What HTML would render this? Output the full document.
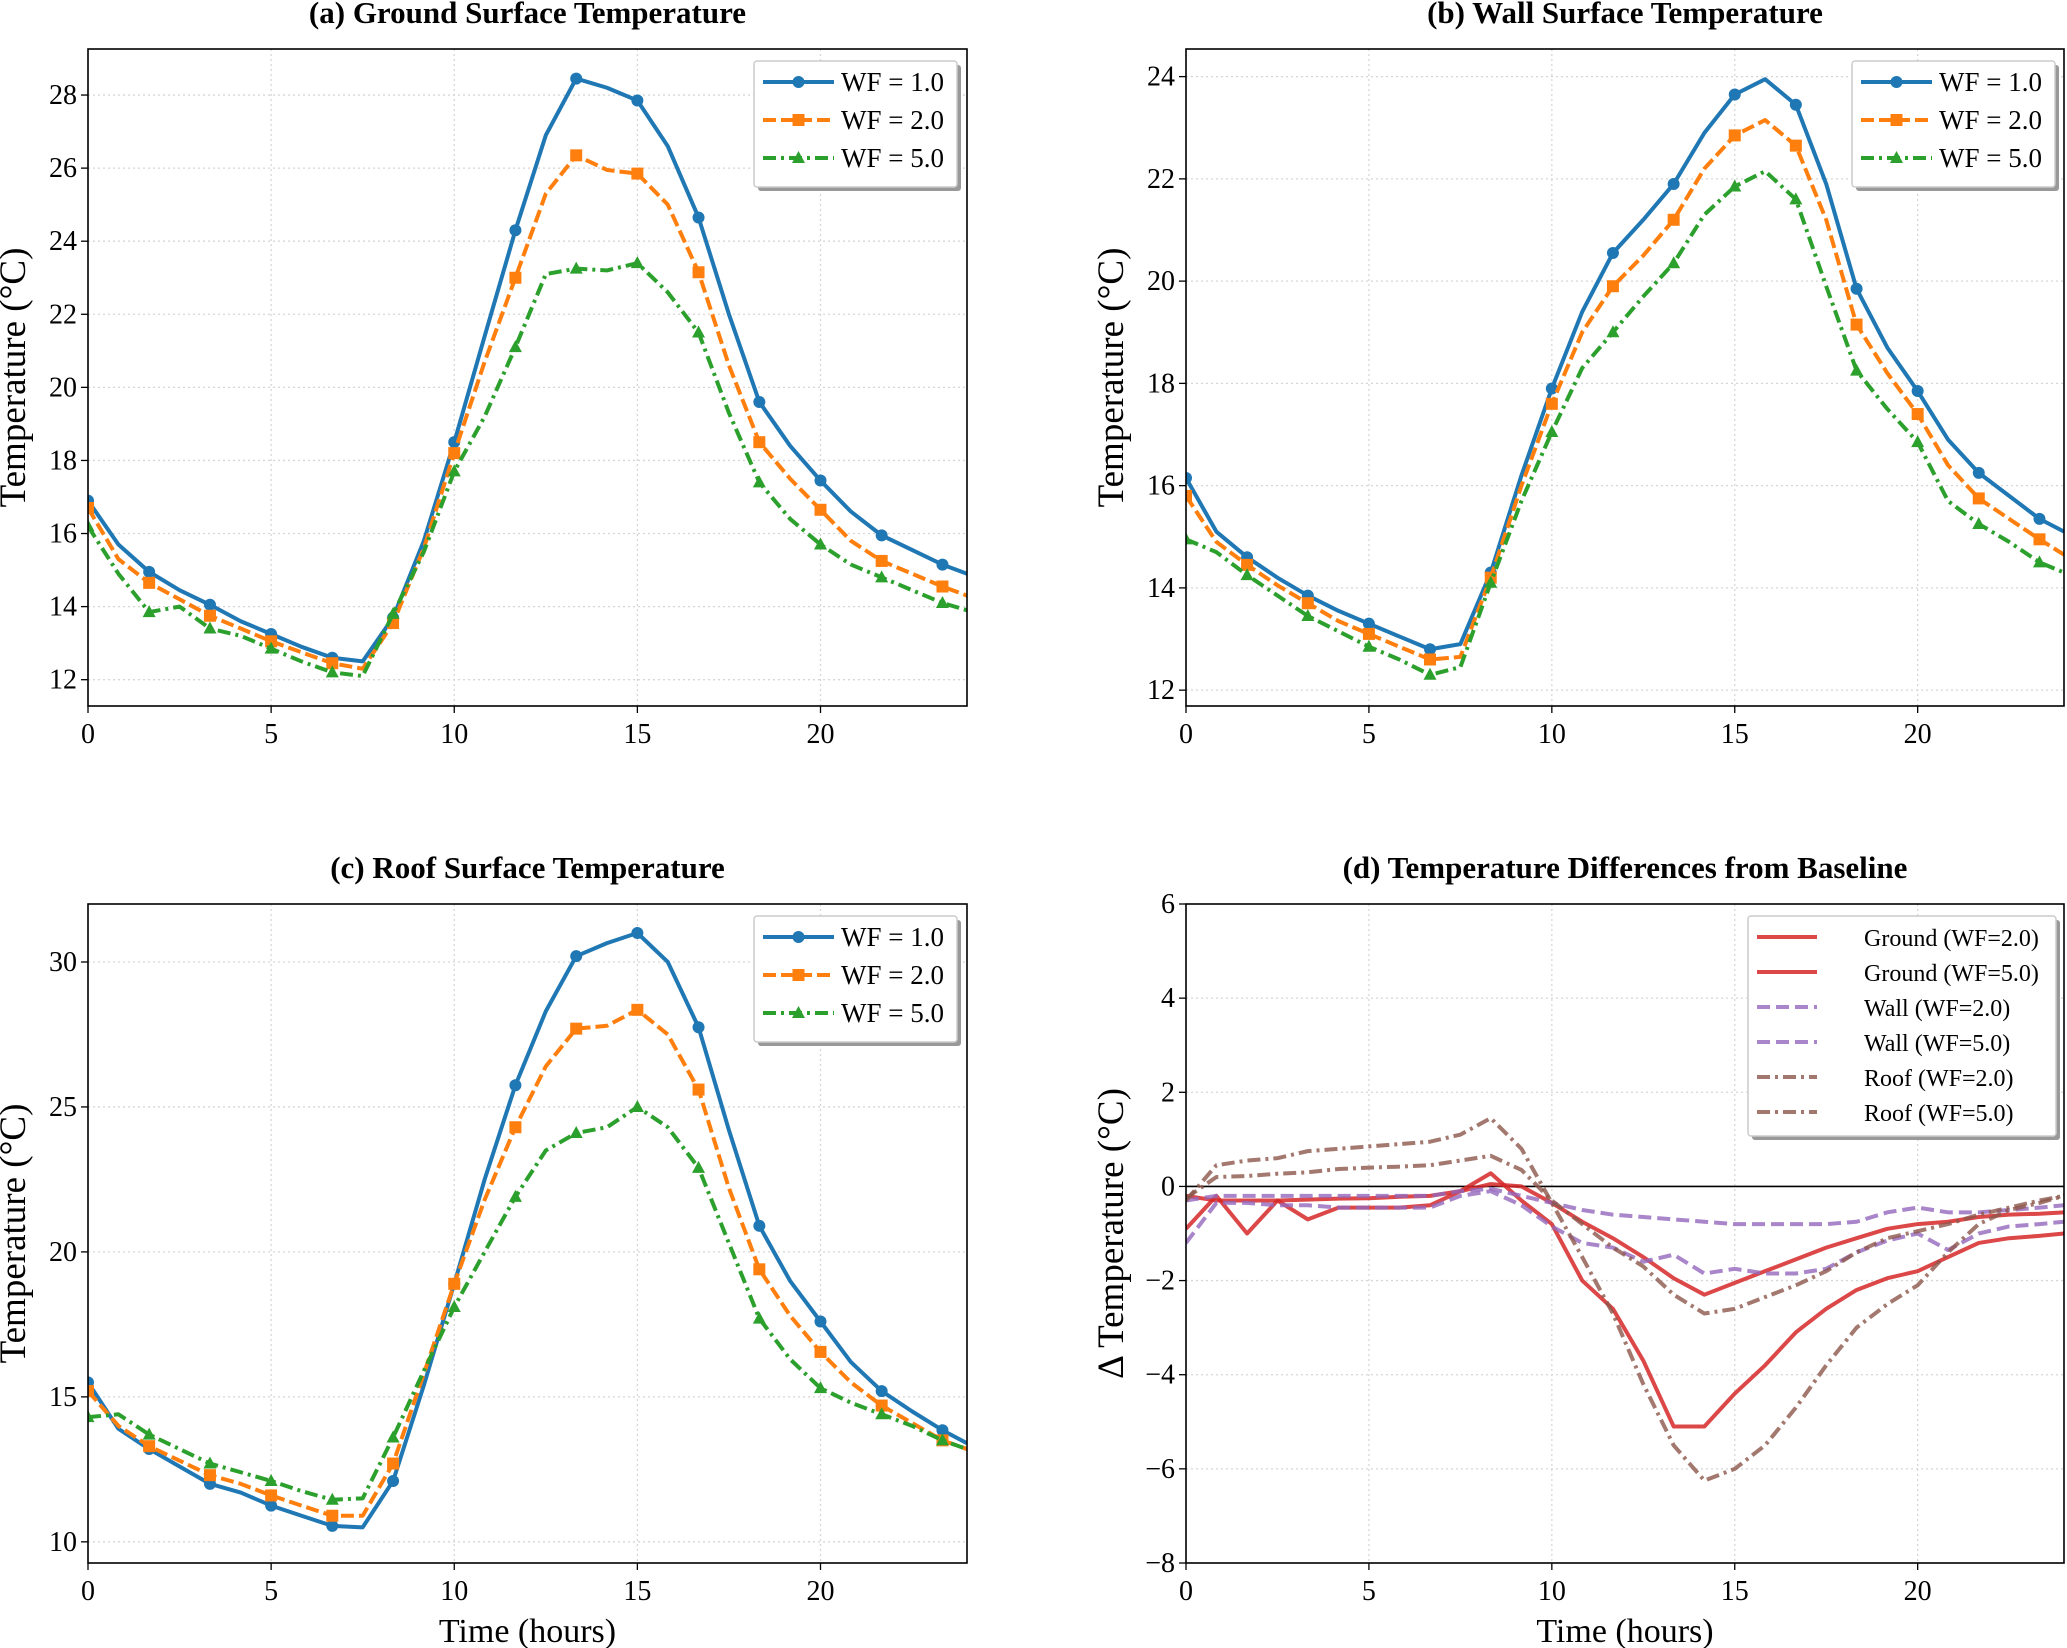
<!DOCTYPE html>
<html><head><meta charset="utf-8"><style>
html,body{margin:0;padding:0;background:#fff}
svg{display:block;font-family:"Liberation Serif",serif}
</style></head><body>
<svg id="fig" width="2067" height="1648" viewBox="0 0 2067 1648" xmlns="http://www.w3.org/2000/svg"></svg>
<script>
const times=[0,0.83,1.67,2.5,3.33,4.17,5,5.83,6.67,7.5,8.33,9.17,10,10.83,11.67,12.5,13.33,14.17,15,15.83,16.67,17.5,18.33,19.17,20,20.83,21.67,22.5,23.33,24];
const xTicks=[0,5,10,15,20];
const gWF1=[16.9,15.7,14.95,14.45,14.05,13.6,13.25,12.9,12.6,12.5,13.7,15.8,18.5,21.4,24.3,26.9,28.45,28.2,27.85,26.6,24.65,22,19.6,18.4,17.45,16.6,15.95,15.55,15.15,14.9];
const gWF2=[16.7,15.3,14.65,14.2,13.75,13.4,13.05,12.75,12.45,12.3,13.55,15.6,18.2,20.7,23.0,25.3,26.35,25.95,25.85,25.0,23.15,20.6,18.5,17.5,16.65,15.8,15.25,14.9,14.55,14.3];
const gWF5=[16.2,14.9,13.85,14.0,13.4,13.2,12.85,12.5,12.2,12.1,13.8,15.5,17.7,19.2,21.1,23.1,23.25,23.2,23.4,22.6,21.5,19.3,17.4,16.4,15.7,15.15,14.8,14.45,14.1,13.9];
const wWF1=[16.15,15.1,14.6,14.2,13.85,13.55,13.3,13.05,12.8,12.9,14.3,16.2,17.9,19.4,20.55,21.2,21.9,22.9,23.65,23.95,23.45,21.9,19.85,18.7,17.85,16.9,16.25,15.8,15.35,15.1];
const wWF2=[15.8,14.9,14.45,14.05,13.7,13.35,13.1,12.85,12.6,12.65,14.2,16.0,17.6,19.0,19.9,20.5,21.2,22.2,22.85,23.15,22.65,21.2,19.15,18.2,17.4,16.4,15.75,15.35,14.95,14.65];
const wWF5=[14.95,14.7,14.25,13.85,13.45,13.15,12.85,12.6,12.3,12.45,14.1,15.7,17.05,18.3,19.0,19.7,20.35,21.3,21.85,22.15,21.6,19.9,18.25,17.5,16.85,15.7,15.25,14.9,14.5,14.3];
const rWF1=[15.5,13.9,13.2,12.6,12.0,11.7,11.25,10.9,10.55,10.5,12.1,15.4,18.9,22.5,25.75,28.3,30.2,30.65,31.0,30.0,27.75,24.2,20.9,19.0,17.6,16.2,15.2,14.5,13.85,13.4];
const rWF2=[15.2,14.0,13.3,12.8,12.3,12.0,11.6,11.25,10.9,10.9,12.7,15.8,18.9,21.8,24.3,26.4,27.7,27.8,28.35,27.5,25.6,22.2,19.4,17.8,16.55,15.5,14.7,14.1,13.5,13.2];
const rWF5=[14.3,14.4,13.7,13.2,12.7,12.4,12.1,11.75,11.45,11.5,13.6,15.9,18.1,20.0,21.9,23.5,24.1,24.3,25.0,24.3,22.9,20.3,17.7,16.3,15.3,14.8,14.4,14.0,13.5,13.2];
const dG2=[-0.2,-0.3,-0.3,-0.3,-0.28,-0.26,-0.25,-0.22,-0.2,-0.1,0.05,0.0,-0.35,-0.75,-1.1,-1.5,-1.95,-2.3,-2.05,-1.8,-1.55,-1.3,-1.1,-0.9,-0.8,-0.75,-0.65,-0.6,-0.58,-0.55];
const dG5=[-0.9,-0.2,-1.0,-0.3,-0.7,-0.45,-0.45,-0.45,-0.4,-0.1,0.28,-0.3,-0.8,-2.0,-2.6,-3.7,-5.1,-5.1,-4.4,-3.8,-3.1,-2.6,-2.2,-1.95,-1.8,-1.5,-1.2,-1.1,-1.05,-1.0];
const dW2=[-0.3,-0.2,-0.2,-0.2,-0.2,-0.2,-0.2,-0.2,-0.2,-0.1,-0.05,-0.2,-0.35,-0.5,-0.6,-0.65,-0.7,-0.75,-0.8,-0.8,-0.8,-0.8,-0.75,-0.55,-0.45,-0.55,-0.55,-0.5,-0.45,-0.4];
const dW5=[-1.2,-0.35,-0.35,-0.4,-0.4,-0.45,-0.45,-0.45,-0.45,-0.2,-0.1,-0.4,-0.85,-1.2,-1.3,-1.6,-1.45,-1.85,-1.75,-1.85,-1.85,-1.75,-1.4,-1.15,-1.0,-1.35,-1.0,-0.85,-0.8,-0.75];
const dR2=[-0.25,0.2,0.22,0.27,0.3,0.37,0.4,0.42,0.45,0.55,0.65,0.35,-0.3,-0.8,-1.3,-1.7,-2.3,-2.7,-2.6,-2.35,-2.1,-1.8,-1.4,-1.1,-0.95,-0.8,-0.6,-0.45,-0.3,-0.2];
const dR5=[-0.3,0.45,0.55,0.6,0.75,0.8,0.85,0.9,0.95,1.1,1.45,0.8,-0.35,-1.5,-2.7,-4.2,-5.5,-6.25,-6.0,-5.5,-4.7,-3.8,-3.0,-2.5,-2.1,-1.4,-0.8,-0.5,-0.35,-0.2];
const yTicksA=[12,14,16,18,20,22,24,26,28];
const yTicksB=[12,14,16,18,20,22,24];
const yTicksC=[10,15,20,25,30];
const yTicksD=[-8,-6,-4,-2,0,2,4,6];

const NS="http://www.w3.org/2000/svg";
const svg=document.getElementById('fig');
function mk(tag,attrs,parent){const e=document.createElementNS(NS,tag);for(const k in attrs)e.setAttribute(k,attrs[k]);(parent||svg).appendChild(e);return e;}
function txt(s,attrs,parent){const e=mk('text',attrs,parent);e.textContent=s;return e;}
function minus(v){return v<0?'\u2212'+Math.abs(v):String(v);}

function panel(id,L,R,T,B,ymin,ymax,yt,title,ylabel,xlabel){
  const g=mk('g',{});
  
  
  const sx=v=>L+(v-0)/(24-0)*(R-L);
  const sy=v=>B-(v-ymin)/(ymax-ymin)*(B-T);
  const cid='clip-'+id;
  const cp=mk('clipPath',{id:cid},g);mk('rect',{x:L,y:T,width:R-L,height:B-T},cp);
  xTicks.forEach(v=>{const l=mk('line',{x1:sx(v),x2:sx(v),y1:T,y2:B,stroke:'#d6d6d6','stroke-width':1.3,'stroke-dasharray':'2,3'},g);
    
    mk('line',{x1:sx(v),x2:sx(v),y1:B,y2:B+7,stroke:'#000','stroke-width':1.3},g);
    const t=txt(String(v),{x:sx(v),y:B+37,'font-size':28,'text-anchor':'middle'},g);
    });
  yt.forEach(v=>{const l=mk('line',{x1:L,x2:R,y1:sy(v),y2:sy(v),stroke:'#d6d6d6','stroke-width':1.3,'stroke-dasharray':'2,3'},g);
    
    mk('line',{x1:L-7,x2:L,y1:sy(v),y2:sy(v),stroke:'#000','stroke-width':1.3},g);
    const t=txt(minus(v),{x:L-11,y:sy(v)+9,'font-size':28,'text-anchor':'end'},g);
    });
  const tt=txt(title,{x:(L+R)/2,y:T-26,'font-size':31,'font-weight':'bold','text-anchor':'middle'},g);
  
  const cx=L-75,cy=(T+B)/2;
  const yl=txt(ylabel,{x:cx,y:cy,'font-size':37,'text-anchor':'middle',transform:`rotate(-90 ${cx} ${cy})`,dy:12},g);
  
  if(xlabel){const xl=txt(xlabel,{x:(L+R)/2,y:B+79,'font-size':34,'text-anchor':'middle'},g);
    }
  const plot=mk('g',{'clip-path':`url(#${cid})`},g);
  return {g,plot,sx,sy,L,R,T,B};
}

function series(p,vals,color,dash,marker,name,opacity){
  const pts=times.map((t,i)=>[p.sx(t),p.sy(vals[i])]);
  const l=mk('polyline',{points:pts.map(q=>q.join(',')).join(' '),fill:'none',stroke:color,'stroke-width':4,'stroke-dasharray':dash||'none','stroke-linejoin':'round',opacity:opacity||1},p.plot);
  
  if(marker){pts.forEach((q,i)=>{if(i%2)return;if(i===times.length-1)return;drawMarker(p.plot,marker,q[0],q[1],color,name+'-marker');});}
}
function drawMarker(parent,m,x,y,color,name){
  let e;
  if(m==='o')e=mk('circle',{cx:x,cy:y,r:6,fill:color},parent);
  else if(m==='s')e=mk('rect',{x:x-6,y:y-6,width:12,height:12,fill:color},parent);
  else e=mk('polygon',{points:`${x},${y-7} ${x-6.5},${y+5} ${x+6.5},${y+5}`,fill:color},parent);
  
}
function frame(p){const r=mk('rect',{x:p.L,y:p.T,width:p.R-p.L,height:p.B-p.T,fill:'none',stroke:'#000','stroke-width':1.6},p.g);
  }
function legend(p,x,y,w,h,entries,rowH,fs,lineLen,textX){
  const lg=mk('g',{},p.g);
  
  mk('rect',{x:x+4,y:y+4,width:w,height:h,fill:'#999',rx:3},lg);
  mk('rect',{x:x,y:y,width:w,height:h,fill:'#fff',stroke:'#ccc','stroke-width':1.5,rx:3},lg);
  entries.forEach((e,i)=>{const cy=y+21+i*rowH;
    const eg=mk('g',{},lg);
    
    mk('line',{x1:x+9,x2:x+9+lineLen,y1:cy,y2:cy,stroke:e.c,'stroke-width':4,'stroke-dasharray':e.d||'none',opacity:e.o||1},eg);
    if(e.m)drawMarker(eg,e.m,x+9+lineLen/2,cy,e.c,'legend-marker');
    txt(e.t,{x:x+textX,y:cy+9,'font-size':fs},eg);});
}
const B='#1f77b4',O='#ff7f0e',G='#2ca02c';
const DASH='13,5',DD='13,5,3,5';
const std=[{t:'WF = 1.0',c:B,m:'o'},{t:'WF = 2.0',c:O,m:'s',d:DASH},{t:'WF = 5.0',c:G,m:'^',d:DD}];

const pa=panel('ground',88,967,49,706,11.28,29.26,yTicksA,'(a) Ground Surface Temperature','Temperature (°C)',null);
series(pa,gWF1,B,null,'o','ground-wf1-line');series(pa,gWF2,O,DASH,'s','ground-wf2-line');series(pa,gWF5,G,DD,'^','ground-wf5-line');
frame(pa);legend(pa,754,61,203,126,std,38,27,71,87);

const pb=panel('wall',1186,2064,49,706,11.69,24.54,yTicksB,'(b) Wall Surface Temperature','Temperature (°C)',null);
series(pb,wWF1,B,null,'o','wall-wf1-line');series(pb,wWF2,O,DASH,'s','wall-wf2-line');series(pb,wWF5,G,DD,'^','wall-wf5-line');
frame(pb);legend(pb,1852,61,203,126,std,38,27,71,87);

const pc=panel('roof',88,967,904,1563,9.27,32,yTicksC,'(c) Roof Surface Temperature','Temperature (°C)','Time (hours)');
series(pc,rWF1,B,null,'o','roof-wf1-line');series(pc,rWF2,O,DASH,'s','roof-wf2-line');series(pc,rWF5,G,DD,'^','roof-wf5-line');
frame(pc);legend(pc,754,916,203,126,std,38,27,71,87);

const pd=panel('diff',1186,2064,904,1563,-8,6,yTicksD,'(d) Temperature Differences from Baseline','Δ Temperature (°C)','Time (hours)');
const z=mk('line',{x1:pd.L,x2:pd.R,y1:pd.sy(0),y2:pd.sy(0),stroke:'#000','stroke-width':1.6},pd.plot);

const RC='#d62728',PC='#9467bd',BC='#8c564b';
series(pd,dG2,RC,null,null,'ground-wf2-diff',0.85);series(pd,dG5,RC,null,null,'ground-wf5-diff',0.85);
series(pd,dW2,PC,'13,6',null,'wall-wf2-diff',0.8);series(pd,dW5,PC,'13,6',null,'wall-wf5-diff',0.8);
series(pd,dR2,BC,DD,null,'roof-wf2-diff',0.8);series(pd,dR5,BC,DD,null,'roof-wf5-diff',0.8);
frame(pd);
legend(pd,1748,916,308,220,[{t:'Ground (WF=2.0)',c:RC,o:0.85},{t:'Ground (WF=5.0)',c:RC,o:0.85},{t:'Wall (WF=2.0)',c:PC,d:'13,6',o:0.8},{t:'Wall (WF=5.0)',c:PC,d:'13,6',o:0.8},{t:'Roof (WF=2.0)',c:BC,d:DD,o:0.8},{t:'Roof (WF=5.0)',c:BC,d:DD,o:0.8}],35,24,60,116);
</script>
</body></html>
